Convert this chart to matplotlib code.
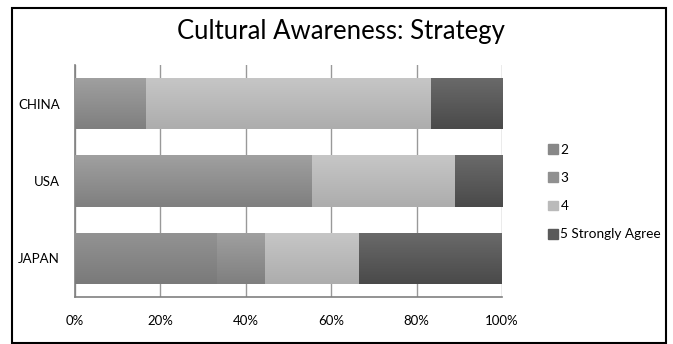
import matplotlib
matplotlib.use('Agg')
import matplotlib.pyplot as plt
import matplotlib.patches as mpatches
import matplotlib.ticker as plticker
import numpy as np

plt.rcParams['font.family'] = ['Lato', 'DejaVu Sans']

countries = ['JAPAN', 'USA', 'CHINA']
series = ['2', '3', '4', '5 Strongly Agree']
# percent of responses per rating
vals = {
    '2': [33.3, 0.0, 0.0],
    '3': [11.1, 55.6, 16.7],
    '4': [22.2, 33.3, 66.7],
    '5 Strongly Agree': [33.3, 11.1, 16.7],
}

# top / bottom shade of the gradient fill
shade_top = {'2': '#939393', '3': '#a0a0a0', '4': '#c6c6c6', '5 Strongly Agree': '#6a6a6a'}
shade_bot = {'2': '#7a7a7a', '3': '#7f7f7f', '4': '#adadad', '5 Strongly Agree': '#4a4a4a'}
shade_mid = {'2': '#888888', '3': '#909090', '4': '#bababa', '5 Strongly Agree': '#5a5a5a'}

W, H = 673, 344
fig = plt.figure(figsize=(W/100, H/100), dpi=100)
ax = fig.add_axes([75/W, 1 - 297/H, 427/W, 232/H])

y = np.arange(len(countries))
left = np.zeros(len(countries))
grad = np.linspace(0, 1, 64).reshape(-1, 1)
for s in series:
    v = np.array(vals[s])
    rects = ax.barh(y, v, height=0.66, left=left, color=shade_mid[s],
                    label=s, linewidth=0, zorder=2)
    cmap = matplotlib.colors.LinearSegmentedColormap.from_list(
        's' + s, [shade_top[s], shade_bot[s]])
    for r in rects:
        if r.get_width() <= 0:
            continue
        x0, y0 = r.get_x(), r.get_y()
        im = ax.imshow(grad, cmap=cmap, aspect='auto', zorder=3,
                       extent=(x0, x0 + r.get_width(), y0, y0 + r.get_height()),
                       origin='upper', interpolation='bilinear')
        im.set_clip_path(r)
    left += v

ax.set_xlim(0, 100)
ax.set_ylim(-0.5, 2.5)
ax.set_yticks(y, countries)
ax.xaxis.set_major_locator(plticker.MultipleLocator(20))
ax.xaxis.set_major_formatter('{x:.0f}%')
ax.grid(axis='x', color='#999999', linewidth=1)
ax.set_axisbelow(True)
for sp in ['top', 'right']:
    ax.spines[sp].set_visible(False)
for sp in ['left', 'bottom']:
    ax.spines[sp].set_color('#808080')
    ax.spines[sp].set_linewidth(1.2)
ax.tick_params(axis='both', length=0, labelsize=9.5, colors='black')
ax.tick_params(axis='x', pad=13)
ax.tick_params(axis='y', pad=11)

handles = [mpatches.Patch(color=shade_mid[s]) for s in series]
fig.legend(handles, series, loc='center left', bbox_to_anchor=(536/W, 1 - 192/H),
           frameon=False, fontsize=9.8, labelspacing=1.2, handlelength=0.7,
           handleheight=0.7, handletextpad=0.2)

fig.text(341/W, 1 - 32/H, 'Cultural Awareness: Strategy', ha='center', va='center',
         fontsize=18.5)

fig.patches.append(mpatches.Rectangle((12/W, 1/H), 654/W, 335/H, transform=fig.transFigure,
                                      fill=False, edgecolor='black', linewidth=1.5))

fig.savefig('out.png', dpi=100)
